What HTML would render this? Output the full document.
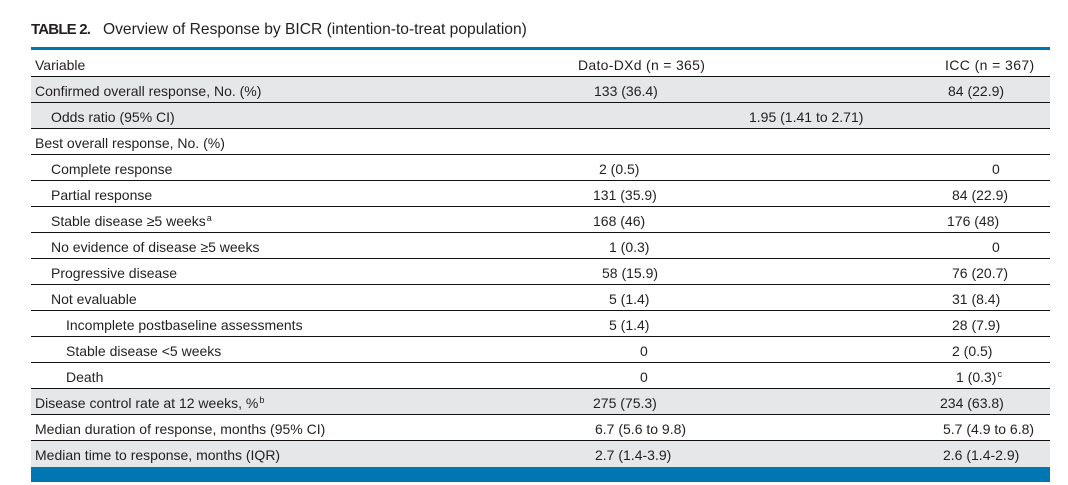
<!DOCTYPE html>
<html>
<head>
<meta charset="utf-8">
<style>
  html, body { margin:0; padding:0; background:#fff; }
  body { width:1068px; height:485px; position:relative; overflow:hidden;
         font-family:"Liberation Sans", Arial, sans-serif; color:#231f20; }
  .title { position:absolute; top:21px; left:31px; line-height:18px; white-space:nowrap; }
  .title b { font-size:15px; letter-spacing:-0.8px; }
  .title span { font-size:15.6px; position:absolute; left:72px; top:0; }
  .topline { position:absolute; left:31px; width:1019px; top:47px; height:3px; background:#0077b3; }
  .botbar { position:absolute; left:31px; width:1019px; top:467px; height:15px; background:#0077b3; }
  .row { position:absolute; left:31px; width:1019px; height:26px; box-sizing:border-box;
         border-top:1px solid #111; font-size:14px; line-height:25px; white-space:nowrap; }
  .row.hdr { border-top:none; line-height:26px; }
  .row.g { background:#e6e7e8; }
  .row span { position:absolute; top:2px; }
  sup { font-size:9px; line-height:0; position:relative; top:-5px; vertical-align:baseline; margin-left:1px; }
</style>
</head>
<body>
<div class="title"><b>TABLE 2.</b><span>Overview of Response by BICR (intention-to-treat population)</span></div>
<div class="topline"></div>

<div class="row hdr" style="top:50px;">
  <span style="left:4px;">Variable</span>
  <span style="left:547px; letter-spacing:0.3px;">Dato-DXd (n = 365)</span>
  <span style="left:914px; letter-spacing:0.4px;">ICC (n = 367)</span>
</div>

<div class="row g" style="top:76px;">
  <span style="left:4px;">Confirmed overall response, No. (%)</span>
  <span style="left:563px;">133 (36.4)</span>
  <span style="left:917px;">84 (22.9)</span>
</div>
<div class="row g" style="top:102px;">
  <span style="left:20px;">Odds ratio (95% CI)</span>
  <span style="left:718px;">1.95 (1.41 to 2.71)</span>
</div>
<div class="row" style="top:128px;">
  <span style="left:4px;">Best overall response, No. (%)</span>
</div>
<div class="row" style="top:154px;">
  <span style="left:20px;">Complete response</span>
  <span style="left:568px;">2 (0.5)</span>
  <span style="left:961px;">0</span>
</div>
<div class="row" style="top:180px;">
  <span style="left:20px;">Partial response</span>
  <span style="left:562px;">131 (35.9)</span>
  <span style="left:921px;">84 (22.9)</span>
</div>
<div class="row" style="top:206px;">
  <span style="left:20px;">Stable disease ≥5 weeks<sup>a</sup></span>
  <span style="left:562px;">168 (46)</span>
  <span style="left:916px;">176 (48)</span>
</div>
<div class="row" style="top:232px;">
  <span style="left:20px;">No evidence of disease ≥5 weeks</span>
  <span style="left:578px;">1 (0.3)</span>
  <span style="left:961px;">0</span>
</div>
<div class="row" style="top:258px;">
  <span style="left:20px;">Progressive disease</span>
  <span style="left:571px;">58 (15.9)</span>
  <span style="left:921px;">76 (20.7)</span>
</div>
<div class="row" style="top:284px;">
  <span style="left:20px;">Not evaluable</span>
  <span style="left:578px;">5 (1.4)</span>
  <span style="left:921px;">31 (8.4)</span>
</div>
<div class="row" style="top:310px;">
  <span style="left:35px;">Incomplete postbaseline assessments</span>
  <span style="left:578px;">5 (1.4)</span>
  <span style="left:921px;">28 (7.9)</span>
</div>
<div class="row" style="top:336px;">
  <span style="left:35px;">Stable disease &lt;5 weeks</span>
  <span style="left:609px;">0</span>
  <span style="left:921px;">2 (0.5)</span>
</div>
<div class="row" style="top:362px;">
  <span style="left:35px;">Death</span>
  <span style="left:609px;">0</span>
  <span style="left:925px;">1 (0.3)<sup>c</sup></span>
</div>
<div class="row g" style="top:388px;">
  <span style="left:4px;">Disease control rate at 12 weeks, %<sup>b</sup></span>
  <span style="left:562px;">275 (75.3)</span>
  <span style="left:909px;">234 (63.8)</span>
</div>
<div class="row" style="top:414px;">
  <span style="left:4px;">Median duration of response, months (95% CI)</span>
  <span style="left:564px;">6.7 (5.6 to 9.8)</span>
  <span style="left:912px;">5.7 (4.9 to 6.8)</span>
</div>
<div class="row g" style="top:440px; height:27px;">
  <span style="left:4px;">Median time to response, months (IQR)</span>
  <span style="left:564px;">2.7 (1.4-3.9)</span>
  <span style="left:912px;">2.6 (1.4-2.9)</span>
</div>

<div class="botbar"></div>
</body>
</html>
